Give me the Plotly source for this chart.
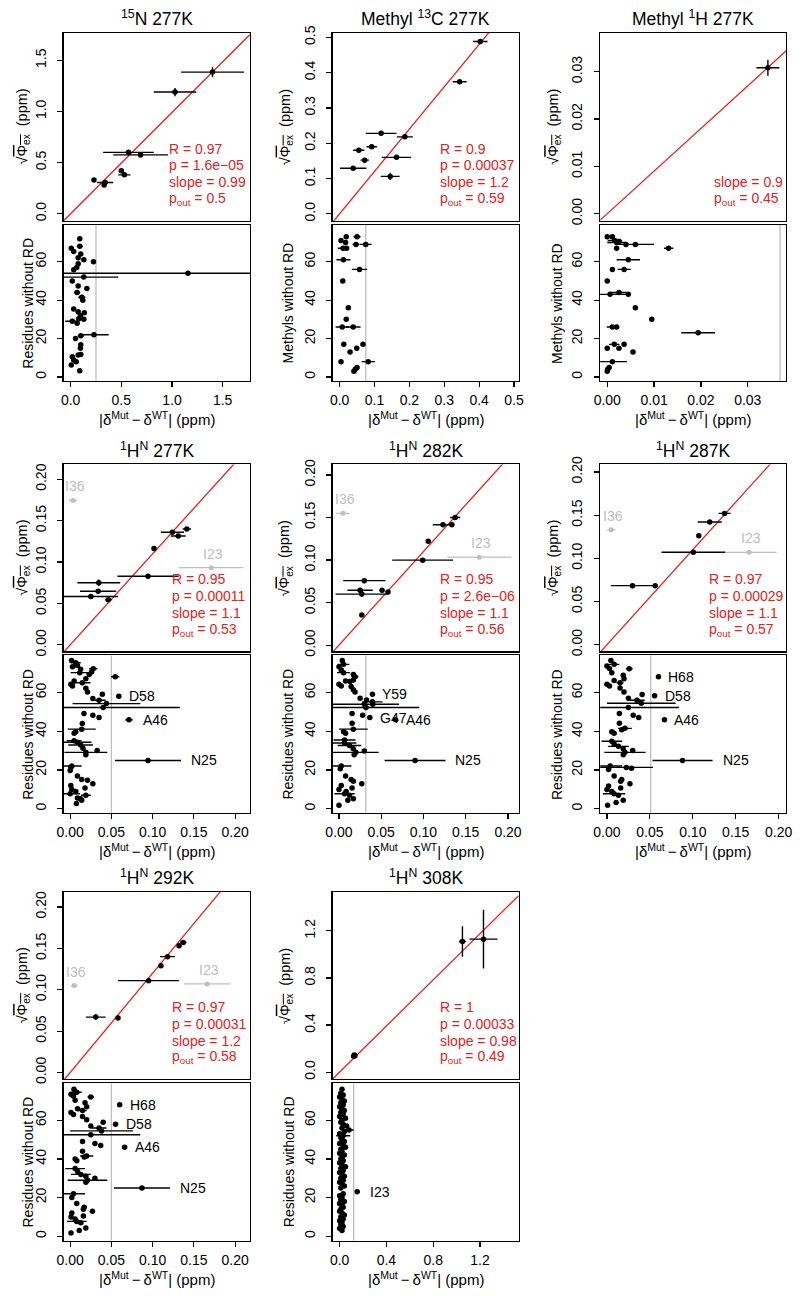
import plotly.graph_objects as go

W, H = 802, 1299
FONT = "Liberation Sans, Arial, Helvetica, sans-serif"
RED = "#E3211C"
GREY = "#BEBEBE"

# ---------------- data ----------------
# 15N 277K
n15_x = [0.23, 0.33, 0.34, 0.50, 0.53, 0.57, 0.69, 1.03, 1.40]
n15_y = [0.33, 0.28, 0.305, 0.42, 0.38, 0.60, 0.575, 1.19, 1.385]
n15_xerr = [0.0, 0.0, 0.08, 0.0, 0.06, 0.25, 0.27, 0.21, 0.31]
n15_yerr = [0.0, 0.01, 0.01, 0.01, 0.01, 0.01, 0.0, 0.04, 0.05]
n15_res = [(0.09, 72, 0), (0.09, 68, 0.03), (0.006, 67, 0), (0.03, 65.3, 0), (0.10, 64, 0),
           (0.074, 62, 0), (0.13, 61, 0), (0.225, 60, 0), (0.074, 59, 0), (0.06, 57, 0),
           (0.03, 55.8, 0), (1.157, 54, 1.3), (0.13, 52, 0.34), (0.016, 50, 0), (0.074, 47.3, 0),
           (0.16, 46, 0), (0.064, 44, 0.03), (0.11, 41.5, 0.035), (0.12, 40, 0), (0.03, 35.4, 0),
           (0.074, 34, 0), (0.135, 33.4, 0), (0.096, 32, 0), (0.08, 30.3, 0), (0.13, 30, 0),
           (0.016, 29, 0.07), (0.064, 28, 0), (0.048, 20, 0), (0.10, 21.5, 0.03), (0.23, 22, 0.145),
           (0.10, 16.8, 0), (0.096, 15, 0), (0.10, 11.7, 0), (0.074, 11.4, 0), (0.016, 10.5, 0),
           (0.03, 8.8, 0), (0.006, 6.3, 0), (0.055, 8, 0), (0.09, 3.2, 0)]
n15_cut = 0.25
n15_stats = ["R = 0.97", "p = 1.6e\u221205", "slope = 0.99", "p<sub>out</sub> = 0.5"]
n15_slope = 0.99

# Methyl 13C 277K
c13_x = [0.403, 0.344, 0.119, 0.187, 0.092, 0.055, 0.072, 0.163, 0.039, 0.145]
c13_y = [0.488, 0.374, 0.228, 0.218, 0.19, 0.18, 0.152, 0.16, 0.129, 0.106]
c13_xerr = [0.021, 0.02, 0.044, 0.023, 0.015, 0.016, 0.012, 0.042, 0.038, 0.027]
c13_yerr = [0.003, 0.004, 0.003, 0.005, 0.005, 0.006, 0.005, 0.004, 0.004, 0.01]
c13_res = [(0.019, 73, 0), (0.05, 73, 0.01), (0.004, 71, 0), (0.017, 70, 0), (0.047, 69, 0.01),
           (0.075, 69, 0.017), (0.01, 67, 0.015), (0.02, 67, 0), (0.011, 61, 0.02), (0.057, 56, 0.022),
           (0.009, 50, 0), (0.025, 36, 0), (0.019, 30, 0), (0.0075, 26, 0.019), (0.039, 26, 0.021),
           (0.012, 17, 0), (0.067, 17, 0), (0.03, 13, 0), (0.049, 15, 0), (0.004, 8, 0),
           (0.082, 8, 0.019), (0.05, 5, 0), (0.041, 3, 0), (0.045, 4, 0)]
c13_cut = 0.075
c13_stats = ["R = 0.9", "p = 0.00037", "slope = 1.2", "p<sub>out</sub> = 0.59"]
c13_slope = 1.2

# Methyl 1H 277K
h1m_x = [0.0343]
h1m_y = [0.0308]
h1m_xerr = [0.00245]
h1m_yerr = [0.0017]
h1m_res = [(0, 73, 0), (0.0011, 73, 0), (0.0016, 71, 0.0015), (0.0025, 70.5, 0), (0.002, 70, 0.002),
           (0.004, 69, 0), (0.006, 69, 0.004), (0.0131, 67, 0.001), (0.002, 67, 0), (0.0045, 61, 0.0025),
           (0.0011, 56, 0), (0.0036, 56, 0.0014), (0, 50, 0), (0.0025, 44, 0.0016), (0.0006, 43, 0.0041),
           (0.0045, 43, 0), (0.006, 36, 0), (0.0095, 30, 0), (0.0011, 26, 0.0012), (0.002, 26, 0),
           (0.0194, 23, 0.0036), (0.0015, 17, 0.0011), (0.0036, 17, 0), (0.0025, 15, 0), (0, 15, 0),
           (0.0055, 13, 0), (0.0011, 8, 0.0031), (0.0004, 5, 0), (0.0001, 4, 0), (0.0, 3, 0)]
h1m_cut = 0.0369
h1m_stats = ["slope = 0.9", "p<sub>out</sub> = 0.45"]
h1m_slope = 0.9

# 1HN 277K
hn277_x = [0.1414, 0.131, 0.124, 0.1016, 0.0944, 0.0347, 0.0339, 0.0251, 0.0462]
hn277_y = [0.140, 0.1315, 0.136, 0.1165, 0.0829, 0.075, 0.0647, 0.0584, 0.0545]
hn277_xerr = [0.005, 0.009, 0.014, 0.0, 0.037, 0.026, 0.022, 0.033, 0.004]
hn277_yerr = [0.002, 0.002, 0.0015, 0.0, 0.0, 0.004, 0.002, 0.0, 0.002]
hn277_out_names = ["I36", "I23"]
hn277_out_x = [0.0036, 0.171]
hn277_out_y = [0.1745, 0.0932]
hn277_out_xerr = [0.005, 0.039]
hn277_res = [(0.0016, 76.6, 0), (0.0068, 75.4, 0.006), (0.0088, 74, 0), (0.0028, 73.4, 0), (0.0127, 72, 0),
             (0.028, 72.3, 0.005), (0.026, 70.6, 0), (0.0116, 70.3, 0.011), (0.023, 69.4, 0), (0.0546, 68.2, 0.005),
             (0.019, 67.2, 0), (0.0048, 66, 0), (0.0147, 65.1, 0.01), (0.0008, 64.3, 0), (0.0028, 63.4, 0),
             (0.019, 62.2, 0), (0.021, 60.3, 0), (0.059, 58.1, 0), (0.039, 59.1, 0), (0.0275, 57, 0),
             (0.035, 56, 0.008), (0.044, 54.3, 0.041), (0.040, 52.3, 0.093), (0.0167, 49.2, 0), (0.0275, 48.3, 0),
             (0.035, 47.1, 0), (0.0713, 45.9, 0.0046), (0.0147, 44, 0), (0.014, 41.1, 0.017), (0.0068, 39.8, 0),
             (0.0048, 39, 0), (0.0048, 35.1, 0.009), (0.0088, 34.3, 0.017), (0.0127, 32.9, 0.015), (0.0155, 31.2, 0),
             (0.019, 29.1, 0.026), (0.0327, 30, 0), (0.019, 27.8, 0), (0.0944, 24.9, 0.04), (0.0008, 21.4, 0),
             (0.002, 22, 0.012), (0, 19.7, 0), (0.0088, 16.8, 0), (0.014, 15.1, 0), (0.021, 14.6, 0),
             (0.0275, 12.9, 0), (0.0008, 12, 0), (0.018, 10.6, 0), (0.002, 9.9, 0), (0.0068, 8.9, 0),
             (0, 7.7, 0.012), (0.019, 6.9, 0.006), (0.0088, 5.5, 0), (0.0127, 5.1, 0), (0.014, 4.3, 0),
             (0.0076, 2.6, 0)]
hn277_res_labels = {17: "D58", 26: "A46", 38: "N25"}
hn277_cut = 0.05
hn277_stats = ["R = 0.95", "p = 0.00011", "slope = 1.1", "p<sub>out</sub> = 0.53"]
hn277_slope = 1.1

# 1HN 282K
hn282_x = [0.1375, 0.123, 0.1336, 0.1056, 0.099, 0.030, 0.025, 0.051, 0.058, 0.027, 0.027]
hn282_y = [0.150, 0.1415, 0.1415, 0.122, 0.0999, 0.0758, 0.0645, 0.0645, 0.0626, 0.060, 0.0354]
hn282_xerr = [0.006, 0.012, 0.0, 0.0, 0.036, 0.025, 0.015, 0.0, 0.0, 0.031, 0.0]
hn282_yerr = [0.002, 0.0015, 0.0, 0.0, 0.0, 0.003, 0.0, 0.002, 0.0, 0.003, 0.002]
hn282_out_names = ["I36", "I23"]
hn282_out_x = [0.0047, 0.166]
hn282_out_y = [0.155, 0.1034]
hn282_out_xerr = [0.0078, 0.038]
hn282_res = [(0.0039, 76.6, 0), (0.0054, 74.6, 0.0068), (0, 73.4, 0), (0.0027, 71.7, 0), (0.0054, 70.3, 0.0078),
             (0.017, 69.4, 0), (0.019, 68.2, 0.004), (0.017, 66.5, 0), (0.0078, 66, 0), (0.013, 65.7, 0.005),
             (0, 64.3, 0), (0.0027, 63.4, 0), (0.0144, 63.1, 0), (0.017, 61.4, 0), (0.019, 60.3, 0),
             (0.0396, 59.1, 0), (0.025, 57.1, 0), (0.0326, 56.2, 0), (0.0396, 55.2, 0.012), (0.04, 54, 0),
             (0.03, 54, 0.041), (0.032, 52.3, 0.063), (0.0155, 49.2, 0), (0.028, 48.3, 0), (0.0365, 47.1, 0),
             (0.067, 45.9, 0), (0.0155, 44.2, 0), (0.017, 41.1, 0.017), (0.0054, 39.8, 0), (0.0078, 39, 0),
             (0.0066, 35.5, 0.013), (0.0066, 33.9, 0.014), (0.0124, 32.6, 0.014), (0.017, 30.9, 0), (0.03, 29.8, 0),
             (0.02, 29.1, 0.027), (0.018, 27.8, 0), (0.09, 24.9, 0.036), (0.0027, 22, 0.012), (0.0016, 20.6, 0),
             (0.0078, 16.8, 0), (0.0144, 15.1, 0), (0.017, 14.1, 0), (0.027, 12.9, 0), (0.0027, 12, 0),
             (0.0155, 10.6, 0), (0, 9.9, 0), (0.0085, 8.9, 0), (0.0066, 7.7, 0.012), (0.0124, 6.9, 0),
             (0.017, 5.1, 0), (0.0105, 4.3, 0), (0, 1.7, 0)]
hn282_res_labels = {15: "Y59", 24: "G47", 25: "A46", 37: "N25"}
hn282_cut = 0.0318
hn282_stats = ["R = 0.95", "p = 2.6e\u221206", "slope = 1.1", "p<sub>out</sub> = 0.56"]
hn282_slope = 1.1

# 1HN 287K
hn287_x = [0.137, 0.1197, 0.107, 0.1006, 0.0298, 0.0562]
hn287_y = [0.152, 0.142, 0.126, 0.107, 0.0684, 0.0684]
hn287_xerr = [0.007, 0.014, 0.0, 0.037, 0.025, 0.0]
hn287_yerr = [0.002, 0.0, 0.0, 0.0, 0.003, 0.0]
hn287_out_names = ["I36", "I23"]
hn287_out_x = [0.005, 0.1656]
hn287_out_y = [0.133, 0.107]
hn287_out_xerr = [0.005, 0.032]
hn287_res = [(0.0046, 76.6, 0), (0.0084, 74.6, 0.006), (0, 73.7, 0), (0.003, 72.5, 0), (0.026, 72.3, 0.004),
             (0.0057, 70.3, 0), (0.019, 68.9, 0), (0.06, 68.2, 0), (0.0199, 67.2, 0), (0.0084, 66.3, 0),
             (0.0153, 65.1, 0.004), (0, 64.3, 0), (0.003, 63.4, 0), (0.0153, 62.4, 0), (0.0199, 60.3, 0),
             (0.041, 59, 0), (0.0555, 58.3, 0), (0.025, 57.1, 0), (0.035, 56, 0.009), (0.04, 54.5, 0.04),
             (0.025, 52.3, 0.059), (0.0145, 49.2, 0), (0.0306, 48.3, 0), (0.037, 47.1, 0), (0.067, 45.9, 0),
             (0.0145, 44.2, 0), (0.021, 41.5, 0.008), (0.0172, 40.8, 0), (0.0057, 39.8, 0), (0.0084, 39, 0),
             (0.0057, 34.8, 0.012), (0.0084, 33.4, 0), (0.0134, 32.2, 0.012), (0.019, 30.9, 0), (0.03, 30, 0),
             (0.021, 29.1, 0.024), (0.019, 27.8, 0), (0.088, 24.9, 0.035), (0.0038, 22, 0.014), (0.0019, 20.2, 0),
             (0.0226, 21.3, 0.031), (0.0287, 20.9, 0), (0.0084, 16.8, 0), (0.0172, 15.1, 0), (0.016, 14.1, 0),
             (0.0268, 12.9, 0), (0.0019, 11.7, 0), (0.016, 10.6, 0), (0, 9.9, 0), (0.0057, 8.9, 0),
             (0.0084, 7.7, 0.013), (0.0134, 6.9, 0), (0.019, 4.3, 0), (0.0107, 3.1, 0), (0.0008, 1.7, 0)]
hn287_res_labels = {7: "H68", 16: "D58", 24: "A46", 37: "N25"}
hn287_cut = 0.051
hn287_stats = ["R = 0.97", "p = 0.00029", "slope = 1.1", "p<sub>out</sub> = 0.57"]
hn287_slope = 1.1

# 1HN 292K
hn292_x = [0.137, 0.132, 0.118, 0.110, 0.095, 0.031, 0.058]
hn292_y = [0.157, 0.153, 0.14, 0.129, 0.111, 0.067, 0.066]
hn292_xerr = [0.004, 0.0, 0.009, 0.0, 0.037, 0.012, 0.0]
hn292_yerr = [0.002, 0.002, 0.0, 0.0, 0.0, 0.003, 0.002]
hn292_out_names = ["I36", "I23"]
hn292_out_x = [0.005, 0.166]
hn292_out_y = [0.105, 0.107]
hn292_out_xerr = [0.004, 0.028]
hn292_res = [(0.0046, 76, 0), (0.008, 74.5, 0.006), (0.001, 73.5, 0), (0.004, 72.5, 0), (0.025, 72, 0.004),
             (0.006, 70.3, 0), (0.018, 69, 0), (0.06, 68, 0), (0.02, 67, 0), (0.009, 66, 0),
             (0.015, 65, 0.005), (0.001, 64, 0), (0.004, 63, 0), (0.015, 62, 0), (0.02, 60.3, 0),
             (0.04, 59, 0), (0.055, 58, 0), (0.025, 57, 0), (0.035, 56, 0.009), (0.038, 54.5, 0.038),
             (0.025, 52.5, 0.06), (0.015, 49, 0), (0.03, 48, 0), (0.037, 47, 0), (0.066, 46, 0),
             (0.015, 44, 0), (0.02, 41.5, 0.008), (0.017, 41, 0), (0.006, 40, 0), (0.008, 39, 0),
             (0.006, 35, 0.012), (0.009, 33.5, 0), (0.013, 32, 0.012), (0.019, 31, 0), (0.03, 30, 0),
             (0.021, 29, 0.024), (0.019, 28, 0), (0.087, 25, 0.034), (0.004, 22, 0.014), (0.002, 20, 0),
             (0.008, 17, 0), (0.017, 15, 0), (0.016, 14, 0), (0.027, 13, 0), (0.002, 12, 0),
             (0.016, 10.5, 0), (0.001, 10, 0), (0.006, 9, 0), (0.008, 7.7, 0.012), (0.013, 7, 0),
             (0.019, 4.3, 0), (0.011, 3, 0), (0.001, 1.7, 0)]
hn292_res_labels = {7: "H68", 16: "D58", 24: "A46", 37: "N25"}
hn292_cut = 0.05
hn292_stats = ["R = 0.97", "p = 0.00031", "slope = 1.2", "p<sub>out</sub> = 0.58"]
hn292_slope = 1.2

# 1HN 308K
hn308_x = [0.12, 0.13, 0.125, 1.05, 1.23]
hn308_y = [0.135, 0.14, 0.145, 1.11, 1.13]
hn308_xerr = [0.0, 0.01, 0.0, 0.03, 0.12]
hn308_yerr = [0.0, 0.0, 0.0, 0.13, 0.25]
hn308_res = [(0.02, 76, 0), (0.01, 74, 0), (0.03, 73, 0), (0.0, 72, 0), (0.02, 71, 0), (0.04, 70, 0),
             (0.01, 69, 0), (0.03, 68, 0), (0.0, 67, 0), (0.02, 66, 0), (0.04, 65, 0), (0.01, 64, 0),
             (0.03, 63, 0), (0.0, 62, 0), (0.05, 61, 0), (0.02, 60, 0), (0.01, 59, 0), (0.03, 58, 0),
             (0.06, 57, 0), (0.02, 56, 0), (0.08, 55, 0.04), (0.04, 54, 0), (0.0, 53, 0), (0.03, 52, 0.06),
             (0.01, 51, 0), (0.02, 50, 0), (0.04, 49, 0), (0.0, 48, 0), (0.03, 47, 0), (0.05, 46, 0),
             (0.01, 45, 0), (0.02, 44, 0), (0.0, 43, 0), (0.04, 42, 0), (0.02, 41, 0), (0.01, 40, 0),
             (0.03, 39, 0), (0.0, 38, 0), (0.02, 37, 0), (0.05, 36, 0), (0.01, 35, 0), (0.03, 34, 0),
             (0.0, 33, 0), (0.02, 32, 0), (0.04, 31, 0), (0.01, 30, 0), (0.03, 29, 0), (0.0, 28, 0),
             (0.02, 27, 0), (0.04, 26, 0), (0.01, 25, 0), (0.15, 23, 0.02), (0.03, 22, 0), (0.0, 21, 0),
             (0.02, 20, 0), (0.01, 19, 0), (0.04, 18, 0), (0.0, 17, 0), (0.02, 16, 0), (0.03, 15, 0),
             (0.01, 14, 0), (0.0, 13, 0), (0.02, 12, 0), (0.04, 11, 0), (0.01, 10, 0), (0.03, 9, 0),
             (0.0, 8, 0), (0.02, 7, 0), (0.01, 6, 0), (0.03, 5, 0), (0.0, 4, 0), (0.02, 3, 0)]
hn308_res_labels = {51: "I23"}
hn308_cut = 0.12
hn308_stats = ["R = 1", "p = 0.00033", "slope = 0.98", "p<sub>out</sub> = 0.49"]
hn308_slope = 0.98

# ---------------- layout helpers ----------------
COLS = [(57.5, 247.0), (331.0, 520.0), (603.0, 792.0)]
ROWS = [((25, 215), (219, 377)), ((461, 650), (654, 813)), ((893, 1082), (1086, 1245))]
YLAB_TOP_X = [16, 283, 556]
YLAB_BOT_X = [21, 286, 559]
STATS_LEFT = [163, 438, 717, 166, 438, 712, 166, 438]

fig = go.Figure()
layout = {}
annotations = []
shapes = []


def fx(p):
    return p / W


def fy(p):
    return 1 - p / H


def axis_common(**kw):
    d = dict(showline=True, mirror=True, linecolor="black", linewidth=1.2,
             ticks="outside", ticklen=5, tickwidth=1.2, tickcolor="black",
             showgrid=False, zeroline=False,
             tickfont=dict(size=14, family=FONT, color="black"))
    d.update(kw)
    return d


def txt(text, x, y, size=14, color="black", angle=0, xanchor="center", yanchor="middle", align="center", **kw):
    a = dict(text=text, x=x, y=y, xref="paper", yref="paper", showarrow=False,
             font=dict(size=size, family=FONT, color=color), textangle=angle,
             xanchor=xanchor, yanchor=yanchor, align=align)
    a.update(kw)
    annotations.append(a)


XLAB = ("|\u03b4<sup>Mut</sup>\u2009\u2212\u2009\u03b4<sup>WT</sup>|\u00a0(ppm)")
YLAB_TOP = "\u221a<span style='text-decoration:overline'>\u03a6<sub>ex</sub></span>\u00a0\u00a0(ppm)"


def panel(idx, col, row, title, rng, dtick, fmt, ptx, pty, ptxe, ptye, slope, stats,
          res, cut, res_labels, res_ylabel, out=None):
    nt, nb = 2 * idx + 1, 2 * idx + 2
    xt, yt = ("x" if nt == 1 else f"x{nt}"), ("y" if nt == 1 else f"y{nt}")
    xb, yb = f"x{nb}", f"y{nb}"
    c0, c1 = COLS[col]
    (t0, t1), (b0, b1) = ROWS[row]
    yres = [-2.2, 79.2]

    layout["xaxis" if nt == 1 else f"xaxis{nt}"] = axis_common(
        domain=[fx(c0), fx(c1)], range=rng, anchor=yt, showticklabels=False, ticks="")
    layout["yaxis" if nt == 1 else f"yaxis{nt}"] = axis_common(
        domain=[fy(t1), fy(t0)], range=rng, anchor=xt, tick0=0, dtick=dtick,
        tickformat=fmt, tickangle=-90, ticklabelstandoff=6)
    layout[f"xaxis{nb}"] = axis_common(
        domain=[fx(c0), fx(c1)], range=rng, anchor=yb, tick0=0, dtick=dtick,
        tickformat=fmt, ticklabelstandoff=1)
    layout[f"yaxis{nb}"] = axis_common(
        domain=[fy(b1), fy(b0)], range=yres, anchor=xb, tick0=0, dtick=20,
        tickangle=-90, ticklabelstandoff=6)

    # fit line through the origin: y = slope * x
    fig.add_trace(go.Scatter(x=[rng[0], rng[1]], y=[slope * rng[0], slope * rng[1]],
                             mode="lines", line=dict(color=RED, width=1.3),
                             xaxis=xt, yaxis=yt, showlegend=False, hoverinfo="skip"))
    if out is not None:
        names, ox, oy, oxe = out
        fig.add_trace(go.Scatter(x=ox, y=oy, mode="markers",
                                 marker=dict(color=GREY, size=5),
                                 error_x=dict(type="data", array=oxe, width=0, thickness=1.3, color=GREY),
                                 xaxis=xt, yaxis=yt, showlegend=False))
        for n, a, b in zip(names, ox, oy):
            annotations.append(dict(text=n, x=a, y=b, xref=xt, yref=yt, showarrow=False,
                                    font=dict(size=14, family=FONT, color=GREY),
                                    xanchor="center", yanchor="bottom", yshift=4, xshift=2))
    fig.add_trace(go.Scatter(x=ptx, y=pty, mode="markers",
                             marker=dict(color="black", size=5.5),
                             error_x=dict(type="data", array=ptxe, width=0, thickness=1.4, color="black"),
                             error_y=dict(type="data", array=ptye, width=0, thickness=1.4, color="black"),
                             xaxis=xt, yaxis=yt, showlegend=False))

    rx = [r[0] for r in res]
    ry = [r[1] for r in res]
    re = [r[2] for r in res]
    shapes.append(dict(type="line", xref=xb, yref=f"{yb} domain", x0=cut, x1=cut, y0=0, y1=1,
                       line=dict(color=GREY, width=1.3), layer="below"))
    fig.add_trace(go.Scatter(x=rx, y=ry, mode="markers",
                             marker=dict(color="black", size=5.5),
                             error_x=dict(type="data", array=re, width=0, thickness=1.4, color="black"),
                             xaxis=xb, yaxis=yb, showlegend=False))
    for i, lab in res_labels.items():
        annotations.append(dict(text=lab, x=rx[i] + re[i], y=ry[i], xref=xb, yref=yb, showarrow=False,
                                font=dict(size=14, family=FONT, color="black"),
                                xanchor="left", yanchor="middle", xshift=8))

    # titles, statistics and axis labels
    cx = (c0 + c1) / 2
    txt(title, fx(cx), fy(t0 - 15), size=17.5)
    n = len(stats)
    for i, s in enumerate(stats):
        txt(s, fx(STATS_LEFT[idx]), fy(t1 - 17 * (n - i) - 5), size=14, color=RED,
            xanchor="left", yanchor="middle", align="left")
    txt(YLAB_TOP, fx(YLAB_TOP_X[col]), fy((t0 + t1) / 2), size=14.5, angle=-90)
    txt(res_ylabel, fx(YLAB_BOT_X[col]), fy((b0 + b1) / 2), size=14, angle=-90)
    txt(XLAB, fx(cx), fy(b1 + 38), size=15)


panel(0, 0, 0, "<sup>15</sup>N 277K", [-0.07, 1.77], 0.5, ".1f",
      n15_x, n15_y, n15_xerr, n15_yerr, n15_slope, n15_stats,
      n15_res, n15_cut, {}, "Residues without RD")
panel(1, 1, 0, "Methyl <sup>13</sup>C 277K", [-0.02, 0.513], 0.1, ".1f",
      c13_x, c13_y, c13_xerr, c13_yerr, c13_slope, c13_stats,
      c13_res, c13_cut, {}, "Methyls without RD")
panel(2, 2, 0, "Methyl <sup>1</sup>H 277K", [-0.0015, 0.0382], 0.01, ".2f",
      h1m_x, h1m_y, h1m_xerr, h1m_yerr, h1m_slope, h1m_stats,
      h1m_res, h1m_cut, {}, "Methyls without RD")
panel(3, 0, 1, "<sup>1</sup>H<sup>N</sup> 277K", [-0.008, 0.218], 0.05, ".2f",
      hn277_x, hn277_y, hn277_xerr, hn277_yerr, hn277_slope, hn277_stats,
      hn277_res, hn277_cut, hn277_res_labels, "Residues without RD",
      out=(hn277_out_names, hn277_out_x, hn277_out_y, hn277_out_xerr))
panel(4, 1, 1, "<sup>1</sup>H<sup>N</sup> 282K", [-0.0075, 0.2125], 0.05, ".2f",
      hn282_x, hn282_y, hn282_xerr, hn282_yerr, hn282_slope, hn282_stats,
      hn282_res, hn282_cut, hn282_res_labels, "Residues without RD",
      out=(hn282_out_names, hn282_out_x, hn282_out_y, hn282_out_xerr))
panel(5, 2, 1, "<sup>1</sup>H<sup>N</sup> 287K", [-0.0078, 0.2087], 0.05, ".2f",
      hn287_x, hn287_y, hn287_xerr, hn287_yerr, hn287_slope, hn287_stats,
      hn287_res, hn287_cut, hn287_res_labels, "Residues without RD",
      out=(hn287_out_names, hn287_out_x, hn287_out_y, hn287_out_xerr))
panel(6, 0, 2, "<sup>1</sup>H<sup>N</sup> 292K", [-0.008, 0.218], 0.05, ".2f",
      hn292_x, hn292_y, hn292_xerr, hn292_yerr, hn292_slope, hn292_stats,
      hn292_res, hn292_cut, hn292_res_labels, "Residues without RD",
      out=(hn292_out_names, hn292_out_x, hn292_out_y, hn292_out_xerr))
panel(7, 1, 2, "<sup>1</sup>H<sup>N</sup> 308K", [-0.06, 1.53], 0.4, ".1f",
      hn308_x, hn308_y, hn308_xerr, hn308_yerr, hn308_slope, hn308_stats,
      hn308_res, hn308_cut, hn308_res_labels, "Residues without RD")

fig.update_layout(**layout)
fig.update_layout(width=W, height=H, margin=dict(l=0, r=0, t=0, b=0),
                  paper_bgcolor="white", plot_bgcolor="white",
                  font=dict(family=FONT, color="black"),
                  annotations=annotations, shapes=shapes, showlegend=False)
fig.write_html("out.html", config={"displayModeBar": False, "staticPlot": True},
               post_script="document.body.style.margin='0px';document.body.style.overflow='hidden';")
